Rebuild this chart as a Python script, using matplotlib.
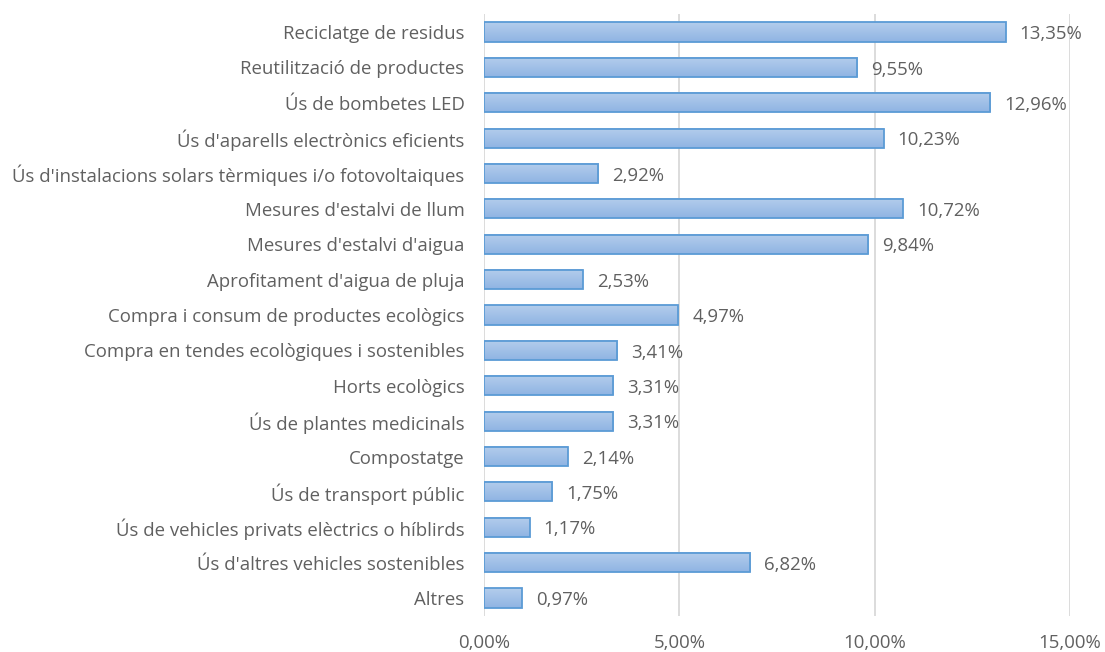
import matplotlib
matplotlib.use("Agg")
import matplotlib.pyplot as plt
import numpy as np
from matplotlib.colors import LinearSegmentedColormap

categories = [
    "Reciclatge de residus",
    "Reutilització de productes",
    "Ús de bombetes LED",
    "Ús d'aparells electrònics eficients",
    "Ús d'instalacions solars tèrmiques i/o fotovoltaiques",
    "Mesures d'estalvi de llum",
    "Mesures d'estalvi d'aigua",
    "Aprofitament d'aigua de pluja",
    "Compra i consum de productes ecològics",
    "Compra en tendes ecològiques i sostenibles",
    "Horts ecològics",
    "Ús de plantes medicinals",
    "Compostatge",
    "Ús de transport públic",
    "Ús de vehicles privats elèctrics o híblirds",
    "Ús d'altres vehicles sostenibles",
    "Altres",
]
values = [13.35, 9.55, 12.96, 10.23, 2.92, 10.72, 9.84, 2.53, 4.97,
          3.41, 3.31, 3.31, 2.14, 1.75, 1.17, 6.82, 0.97]
xticks = [0, 5, 10, 15]

plt.rcParams['font.family'] = ['Open Sans', 'DejaVu Sans']
grey = '#606060'
fs = 13.4

fig = plt.figure(figsize=(11.05, 6.52), dpi=100)
ax = fig.add_axes([0.438, 0.0557, 0.5303, 0.9223])

y = np.arange(len(categories))
bars = ax.barh(y, values, height=0.54, color='none', edgecolor='#5B9BD5',
               linewidth=1.3, zorder=3)

# vertical gradient fill inside each bar
grad_cmap = LinearSegmentedColormap.from_list('g', ['#B4CDEC', '#8FB4E3'])
grad = np.linspace(0, 1, 64).reshape(-1, 1)
for b in bars:
    x0, y0 = b.get_x(), b.get_y()
    w, h = b.get_width(), b.get_height()
    ax.imshow(grad, cmap=grad_cmap, aspect='auto', origin='upper',
              extent=(x0, x0 + w, y0 + h, y0), zorder=2, interpolation='bilinear')

for yi, v in zip(y, values):
    ax.text(v + 0.36, yi + 0.06, f"{v:.2f}".replace('.', ',') + '%', va='center',
            ha='left', fontsize=fs, color=grey, zorder=4)

ax.set_ylim(len(categories) - 0.5, -0.5)
ax.set_xlim(0, 15)
ax.set_yticks(y)
ax.set_yticklabels(categories, fontsize=fs, color=grey)
ax.set_xticks(xticks)
ax.set_xticklabels([f"{t:.2f}".replace('.', ',') + '%' for t in xticks],
                   fontsize=fs, color=grey)
ax.tick_params(axis='both', length=0)
ax.tick_params(axis='y', pad=14)
ax.tick_params(axis='x', pad=13)
ax.grid(axis='x', color='#D9D9D9', linewidth=1.3, zorder=0)
for s in ax.spines.values():
    s.set_visible(False)

fig.savefig('out.png', dpi=100)
